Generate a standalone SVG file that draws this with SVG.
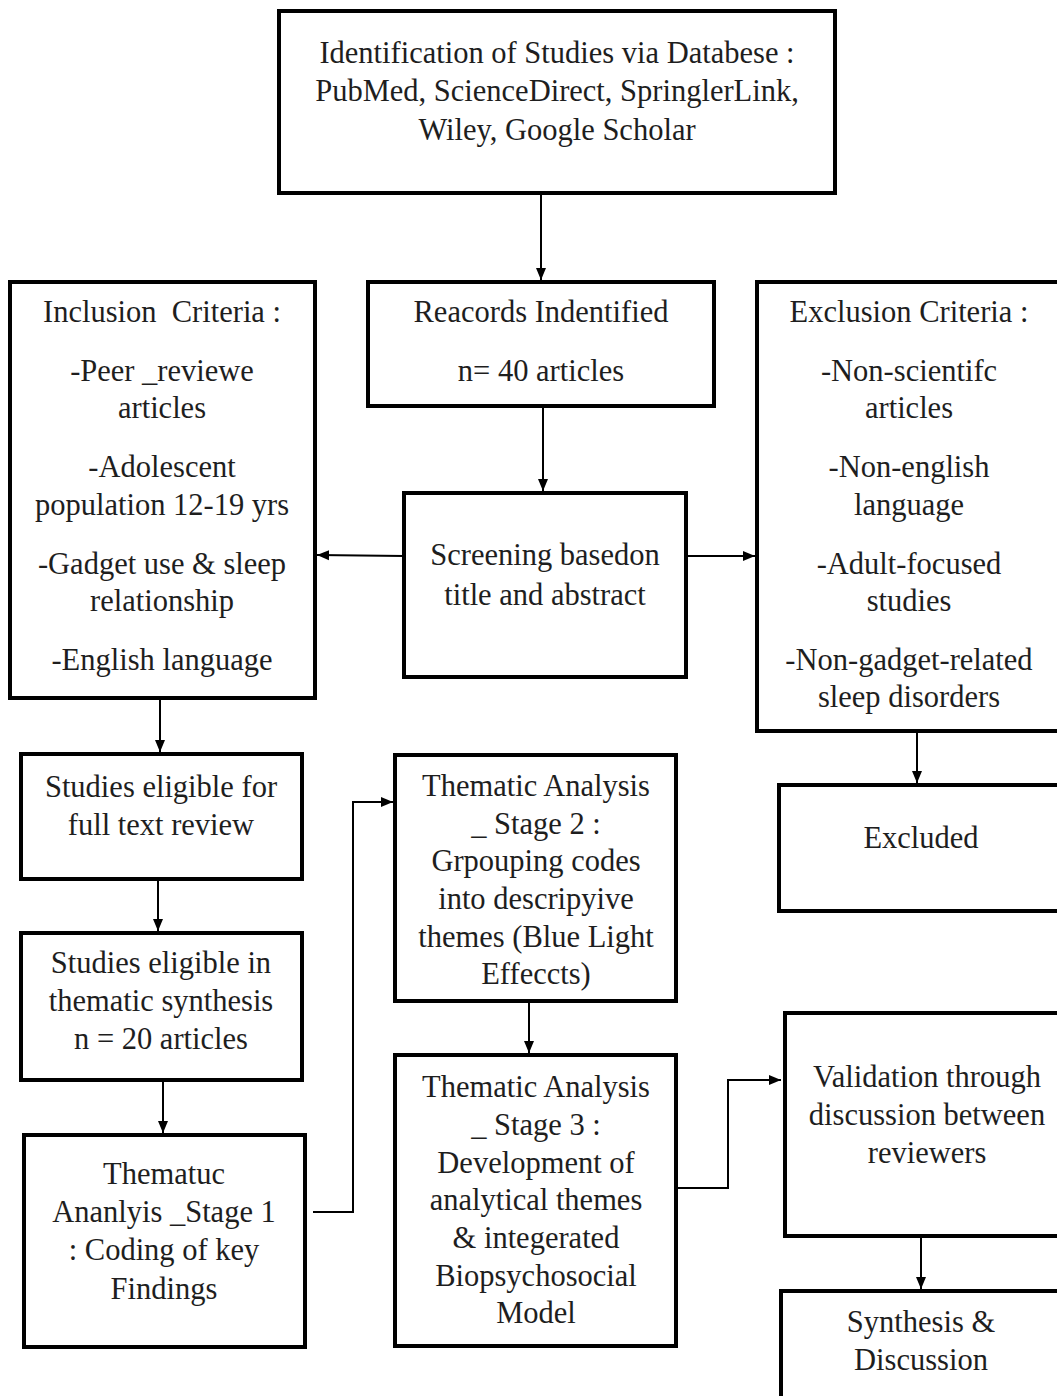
<svg xmlns="http://www.w3.org/2000/svg" width="1057" height="1396" viewBox="0 0 1057 1396">
<style>
.box{fill:#fff;stroke:#000;stroke-width:4}
.t{font-family:"Liberation Serif","Times New Roman",serif;font-size:30.5px;fill:#1e1e1e;text-anchor:middle}
.c{fill:none;stroke:#000;stroke-width:2}
</style>
<defs>
<marker id="ah" markerUnits="userSpaceOnUse" markerWidth="12" markerHeight="12" viewBox="0 0 12 12" refX="12" refY="6" orient="auto">
<path d="M0,1 L12,6 L0,11 Z" fill="#000"/>
</marker>
</defs>
<rect width="1057" height="1396" fill="#fff"/>
<g id="connectors">
<line class="c" x1="541" y1="193" x2="541" y2="280" marker-end="url(#ah)"/>
<line class="c" x1="543" y1="406" x2="543" y2="491" marker-end="url(#ah)"/>
<line class="c" x1="404" y1="556" x2="317" y2="555" marker-end="url(#ah)"/>
<line class="c" x1="686" y1="556" x2="755" y2="556" marker-end="url(#ah)"/>
<line class="c" x1="917" y1="731" x2="917" y2="783" marker-end="url(#ah)"/>
<line class="c" x1="160" y1="698" x2="160" y2="752" marker-end="url(#ah)"/>
<line class="c" x1="158" y1="879" x2="158" y2="931" marker-end="url(#ah)"/>
<line class="c" x1="163" y1="1080" x2="163" y2="1133" marker-end="url(#ah)"/>
<polyline class="c" points="313,1212 353,1212 353,802 393,802" marker-end="url(#ah)"/>
<line class="c" x1="529" y1="1001" x2="529" y2="1053" marker-end="url(#ah)"/>
<polyline class="c" points="678,1188 728,1188 728,1080 781,1080" marker-end="url(#ah)"/>
<line class="c" x1="921" y1="1236" x2="921" y2="1289" marker-end="url(#ah)"/>
</g>
<g id="identification">
<rect class="box" x="279" y="11" width="556" height="182"/>
<text class="t" x="557" y="63">Identification of Studies via Databese :</text>
<text class="t" x="557" y="101">PubMed, ScienceDirect, SpringlerLink,</text>
<text class="t" x="557" y="140">Wiley, Google Scholar</text>
</g>
<g id="records">
<rect class="box" x="368" y="282" width="346" height="124"/>
<text class="t" x="541" y="322">Reacords Indentified</text>
<text class="t" x="541" y="381">n= 40 articles</text>
</g>
<g id="inclusion">
<rect class="box" x="10" y="282" width="305" height="416"/>
<text class="t" x="162" y="322" xml:space="preserve">Inclusion  Criteria :</text>
<text class="t" x="162" y="381">-Peer _reviewe</text>
<text class="t" x="162" y="418">articles</text>
<text class="t" x="162" y="477">-Adolescent</text>
<text class="t" x="162" y="515">population 12-19 yrs</text>
<text class="t" x="162" y="574">-Gadget use &amp; sleep</text>
<text class="t" x="162" y="611">relationship</text>
<text class="t" x="162" y="670">-English language</text>
</g>
<g id="screening">
<rect class="box" x="404" y="493" width="282" height="184"/>
<text class="t" x="545" y="565">Screening basedon</text>
<text class="t" x="545" y="605">title and abstract</text>
</g>
<g id="exclusion">
<rect class="box" x="757" y="282" width="310" height="449"/>
<text class="t" x="909" y="322">Exclusion Criteria :</text>
<text class="t" x="909" y="381">-Non-scientifc</text>
<text class="t" x="909" y="418">articles</text>
<text class="t" x="909" y="477">-Non-english</text>
<text class="t" x="909" y="515">language</text>
<text class="t" x="909" y="574">-Adult-focused</text>
<text class="t" x="909" y="611">studies</text>
<text class="t" x="909" y="670">-Non-gadget-related</text>
<text class="t" x="909" y="707">sleep disorders</text>
</g>
<g id="excluded">
<rect class="box" x="779" y="785" width="290" height="126"/>
<text class="t" x="921" y="848">Excluded</text>
</g>
<g id="fulltext">
<rect class="box" x="21" y="754" width="281" height="125"/>
<text class="t" x="161" y="797">Studies eligible for</text>
<text class="t" x="161" y="835">full text review</text>
</g>
<g id="synthesis-eligible">
<rect class="box" x="21" y="933" width="281" height="147"/>
<text class="t" x="161" y="973">Studies eligible in</text>
<text class="t" x="161" y="1011">thematic synthesis</text>
<text class="t" x="161" y="1049">n = 20 articles</text>
</g>
<g id="stage1">
<rect class="box" x="24" y="1135" width="281" height="212"/>
<text class="t" x="164" y="1184">Thematuc</text>
<text class="t" x="164" y="1222">Ananlyis _Stage 1</text>
<text class="t" x="164" y="1260">: Coding of key</text>
<text class="t" x="164" y="1299">Findings</text>
</g>
<g id="stage2">
<rect class="box" x="395" y="755" width="281" height="246"/>
<text class="t" x="536" y="796">Thematic Analysis</text>
<text class="t" x="536" y="834">_ Stage 2 :</text>
<text class="t" x="536" y="871">Grpouping codes</text>
<text class="t" x="536" y="909">into descripyive</text>
<text class="t" x="536" y="947">themes (Blue Light</text>
<text class="t" x="536" y="984">Effeccts)</text>
</g>
<g id="stage3">
<rect class="box" x="395" y="1055" width="281" height="291"/>
<text class="t" x="536" y="1097">Thematic Analysis</text>
<text class="t" x="536" y="1135">_ Stage 3 :</text>
<text class="t" x="536" y="1173">Development of</text>
<text class="t" x="536" y="1210">analytical themes</text>
<text class="t" x="536" y="1248">&amp; integerated</text>
<text class="t" x="536" y="1286">Biopsychosocial</text>
<text class="t" x="536" y="1323">Model</text>
</g>
<g id="validation">
<rect class="box" x="785" y="1013" width="290" height="223"/>
<text class="t" x="927" y="1087">Validation through</text>
<text class="t" x="927" y="1125">discussion between</text>
<text class="t" x="927" y="1163">reviewers</text>
</g>
<g id="final">
<rect class="box" x="781" y="1291" width="290" height="130"/>
<text class="t" x="921" y="1332">Synthesis &amp;</text>
<text class="t" x="921" y="1370">Discussion</text>
</g>
</svg>
